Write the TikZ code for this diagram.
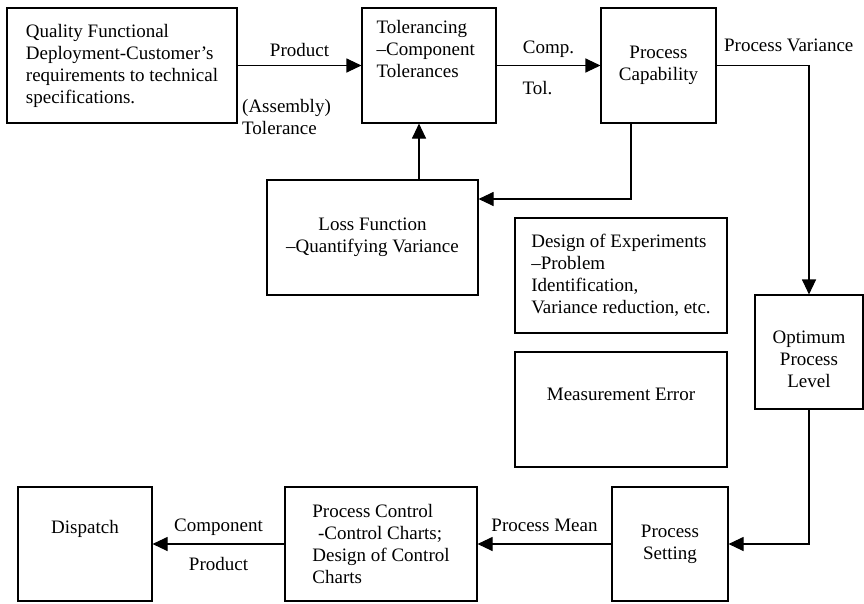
\documentclass[tikz,border=0pt]{standalone}
\usepackage{fontspec}
\setmainfont{Liberation Serif}
\usetikzlibrary{arrows.meta}

\begin{document}
\begin{tikzpicture}[x=1pt,y=-1pt,
    box/.style={draw,line width=1.1pt,inner sep=0pt,align=center},
    lbl/.style={inner sep=0pt,align=left},
    >={Triangle[length=15pt,width=14pt]},
    font=\fontsize{19}{22}\selectfont]
  \useasboundingbox (0,0) rectangle (864,603);

  % top row
  \node[box,minimum width=230pt,minimum height=115pt,align=left] (qfd) at (122,65.5)
    {Quality Functional\\Deployment-Customer's\\requirements to technical\\specifications.};
  \node[box,minimum width=134pt,minimum height=115pt] (tol) at (429,65.5) {};
  \node[lbl,anchor=north west] (toltext) at ([shift={(15,13)}]tol.north west)
    {Tolerancing\\--Component\\Tolerances};
  \node[box,minimum width=115pt,minimum height=115pt] (cap) at (658.5,65.5) {Process\\Capability};

  % middle
  \node[box,minimum width=211pt,minimum height=115pt] (loss) at (372.5,237.5) {Loss Function\\--Quantifying Variance};
  \node[box,minimum width=212pt,minimum height=115pt,align=left] (doe) at (621,275.5)
    {Design of Experiments\\--Problem\\Identification,\\Variance reduction, etc.};
  \node[box,minimum width=212pt,minimum height=115pt] (meas) at (621,409.5) {};
  \node[lbl] (meastext) at ([shift={(0,-15)}]meas.center) {Measurement Error};
  \node[box,minimum width=108pt,minimum height=114pt] (opt) at (809,352) {};
  \node[lbl,align=center] (opttext) at ([shift={(0,7)}]opt.center) {Optimum\\Process\\Level};

  % bottom row
  \node[box,minimum width=134pt,minimum height=114pt] (disp) at (85,544) {};
  \node[lbl] (disptext) at ([shift={(0,-15)}]disp.center) {Dispatch};
  \node[box,minimum width=192pt,minimum height=114pt,align=left] (spc) at (381,544)
    {Process Control\\\hspace*{0.3em}-Control Charts;\\Design of Control\\Charts};
  \node[box,minimum width=116pt,minimum height=114pt] (set) at (670,544) {Process\\Setting};

  \coordinate (c1) at (631,199);
  \coordinate (c2) at (419,150);

  \path[->,line width=1.1pt]
    (qfd) edge node[lbl,above=8pt] (prod) {Product}
               node[lbl,below=33pt,xshift=-13pt] (asm) {(Assembly)\\Tolerance} (tol)
    (tol) edge node[lbl,above=7pt] (comp) {Comp.}
               node[lbl,below=15pt,xshift=-11pt] (tolab) {Tol.} (cap)
    (set) edge node[lbl,above=12pt] (mean) {Process Mean} (spc)
    (spc) edge node[lbl,above=8pt] (compo) {Component}
               node[lbl,below=13pt] (prodb) {Product} (disp);

  \draw[->,line width=1.1pt] (cap.east) -| node[lbl,pos=0,anchor=south west,shift={(7pt,13pt)}] (var) {Process Variance} (opt.north);
  \draw[->,line width=1.1pt] (opt.south) |- (set.east);
  \draw[->,line width=1.1pt] (cap.south -| c1) -- (c1) -- (c1 -| loss.east);
  \draw[->,line width=1.1pt] (loss.north -| c2) -- (tol.south -| c2);
\end{tikzpicture}
\end{document}
